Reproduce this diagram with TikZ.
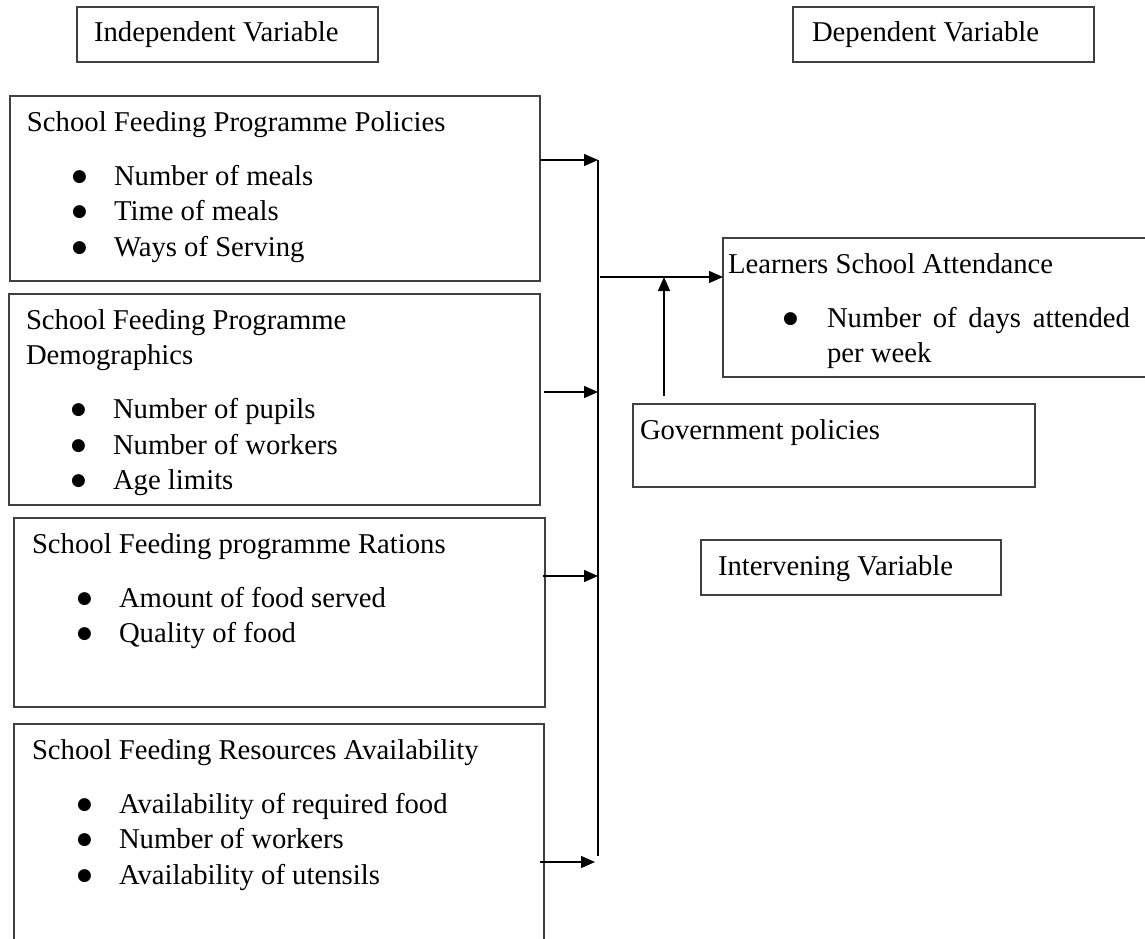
\documentclass[tikz,border=0pt]{standalone}
\usepackage{fontspec}
\setmainfont{Liberation Serif}
\newfontfamily\dotfont{DejaVu Sans}
\usetikzlibrary{arrows.meta,positioning}

\newcommand{\boxbody}[3]{\parbox[c][#2][t]{#1}{\raggedright\vspace*{10.15pt}\strut #3}}
\newcommand{\dotmark}{\raisebox{4pt}{\dotfont\fontsize{17}{17}\selectfont ●}}
\newcommand{\itm}[1]{\par\hspace*{45pt}\makebox[42pt][l]{\dotmark}#1}
\newcommand{\itmgap}{\par\vspace{18.5pt}}

\begin{document}
\begin{tikzpicture}[x=1pt, y=1pt,
varbox/.style={rectangle, draw=black!75, line width=1.2pt, inner ysep=0pt, outer sep=0pt, anchor=north west, font=\fontsize{28.7}{35.5}\selectfont},
link/.style={-{Triangle[length=14pt, width=12pt]}, line width=1.3pt, black}]

\useasboundingbox (0,0) rectangle (1145,-939);

\node[varbox, inner xsep=17pt] (indep) at (77,-7) {\boxbody{267pt}{55pt}{Independent Variable}};

\node[varbox, inner xsep=19pt] (dep) at (793,-7) {\boxbody{263pt}{55pt}{Dependent Variable}};

\node[varbox, inner xsep=17pt] (pol) at (10,-96) {\boxbody{496pt}{185pt}{School Feeding Programme Policies\itmgap
\itm{Number of meals}
\itm{Time of meals}
\itm{Ways of Serving}}};

\node[varbox, inner xsep=17pt, below=13pt of pol.south west, anchor=north west, xshift=-1pt] (dem) {\boxbody{497pt}{211pt}{School Feeding Programme\\Demographics\itmgap
\itm{Number of pupils}
\itm{Number of workers}
\itm{Age limits}}};

\node[varbox, inner xsep=18pt, below=13pt of dem.south west, anchor=north west, xshift=5pt] (rat) {\boxbody{495pt}{189pt}{School Feeding programme Rations\itmgap
\itm{Amount of food served}
\itm{Quality of food}}};

\node[varbox, inner xsep=18pt, below=17pt of rat.south west, anchor=north west] (res) {\boxbody{494pt}{225pt}{School Feeding Resources Availability\itmgap
\itm{Availability of required food}
\itm{Number of workers}
\itm{Availability of utensils}}};

\node[varbox, inner xsep=5pt] (att) at (723,-238) {\boxbody{430pt}{139pt}{Learners School Attendance\itmgap
\hspace*{55pt}\makebox[44pt][l]{\dotmark}\makebox[303pt][s]{Number of days attended}\par
\hspace*{99pt}per week}};

\node[varbox, inner xsep=7pt] (gov) at (633,-404) {\boxbody{388pt}{83pt}{Government policies}};

\node[varbox, inner xsep=17pt] (itv) at (701,-540) {\boxbody{266pt}{55pt}{Intervening Variable}};

\coordinate (bustop) at (598,-160);

\coordinate (busbot) at (598,-856);

\coordinate (j2) at (598,-392);

\coordinate (j3) at (598,-576);

\coordinate (j4) at (595,-862);

\coordinate (j0) at (598,-277);

\coordinate (upend) at (664,-277);

\draw[line width=1.3pt] (bustop) -- (busbot);

\draw[link] (pol.east |- bustop) -- (bustop);

\draw[link] ([xshift=4pt]dem.east |- j2) -- (j2);

\draw[link] ([xshift=-2pt]rat.east |- j3) -- (j3);

\draw[link] ([xshift=-4pt]res.east |- j4) -- (j4);

\draw[link] ([xshift=2pt]j0) -- (att.west |- j0);

\draw[link] ([yshift=8pt]gov.north -| upend) -- (upend);

\end{tikzpicture}
\end{document}
